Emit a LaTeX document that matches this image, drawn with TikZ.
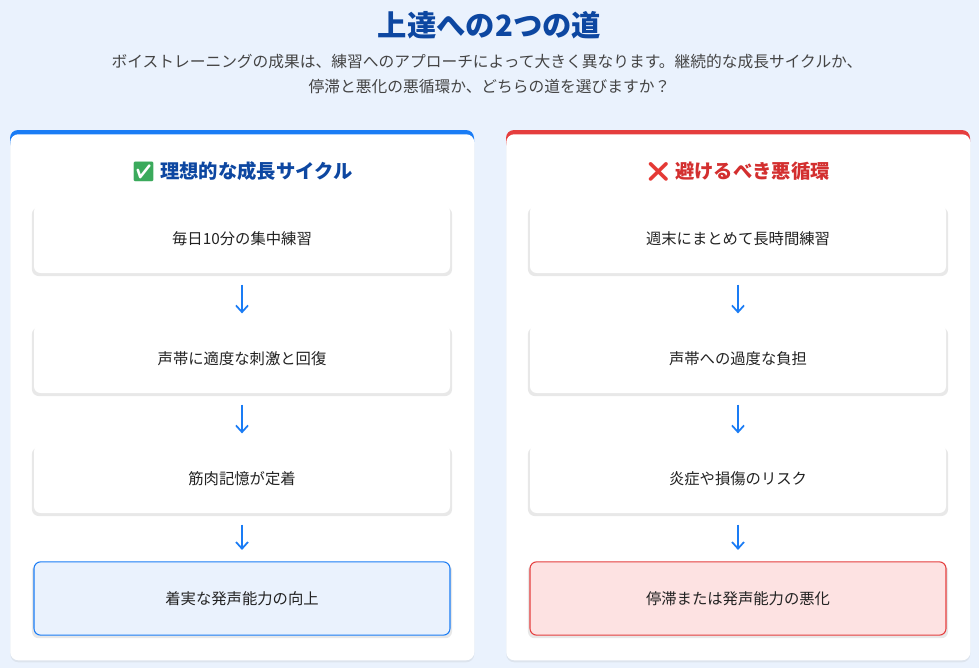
\documentclass[tikz,border=0pt]{standalone}
\usepackage{fontspec}
\setmainfont{Noto Sans CJK JP}
\newfontfamily\emo{Noto Emoji}
\usetikzlibrary{shadows,arrows.meta}
\definecolor{bg}{HTML}{EAF2FD}
\definecolor{ttl}{HTML}{0D47A1}
\definecolor{blu}{HTML}{1A7CF5}
\definecolor{redc}{HTML}{E53E3E}
\definecolor{redt}{HTML}{D32F2F}
\definecolor{pinkc}{HTML}{FDE2E2}
\definecolor{txt}{HTML}{222222}
\definecolor{sub}{HTML}{444444}
\definecolor{okg}{HTML}{3BAA5C}
\definecolor{xr}{HTML}{E53935}
\begin{document}
\begin{tikzpicture}[x=0.75pt,y=-0.75pt,
  card/.style={fill=white,rounded corners=6pt,drop shadow={opacity=0.12,shadow xshift=0pt,shadow yshift=-1.5pt}},
  stepbox/.style={fill=white,rounded corners=5pt,minimum width=312pt,minimum height=51pt,font=\fontsize{11.5}{14}\selectfont,text=txt,drop shadow={opacity=0.18,shadow xshift=0pt,shadow yshift=-2pt,shadow scale=1.01}},
  flow/.style={blu,line width=1.3pt,-{Straight Barb[length=5pt,width=9pt]}}]
\fill[bg] (0,0) rectangle (979,668);
\node[font=\bfseries\fontsize{22}{26}\selectfont,text=ttl] (title) at (489.5,25) {上達への2つの道};
\node[font=\fontsize{11.8}{14}\selectfont,text=sub] (s1) at (487,62) {ボイストレーニングの成果は、練習へのアプローチによって大きく異なります。継続的な成長サイクルか、};
\node[font=\fontsize{11.8}{14}\selectfont,text=sub] (s2) at (489.5,87) {停滞と悪化の悪循環か、どちらの道を選びますか？};
\fill[blu,rounded corners=6pt] (10,130) rectangle (474,150);
\fill[redc,rounded corners=6pt] (506,130) rectangle (970,150);
\node[card,minimum width=348pt,minimum height=394.5pt,anchor=north west] (lc) at (10,134) {};
\node[card,minimum width=348pt,minimum height=394.5pt,anchor=north west] (rc) at (506,134) {};
\node[font=\bfseries\fontsize{14.5}{17}\selectfont,text=ttl] (lh) at (242,172) {{\emo\textcolor{okg}{✅}} 理想的な成長サイクル};
\node[font=\bfseries\fontsize{14.5}{17}\selectfont,text=redt] (rh) at (738,172) {{\emo\textcolor{xr}{❌}} 避けるべき悪循環};
\node[stepbox] (l1) at (242,239) {毎日10分の集中練習};
\node[stepbox] (l2) at (242,359) {声帯に適度な刺激と回復};
\node[stepbox] (l3) at (242,479) {筋肉記憶が定着};
\node[stepbox,fill=bg,draw=blu,line width=0.8pt,minimum height=55pt] (l4) at (242,598.5) {着実な発声能力の向上};
\node[stepbox] (r1) at (738,239) {週末にまとめて長時間練習};
\node[stepbox] (r2) at (738,359) {声帯への過度な負担};
\node[stepbox] (r3) at (738,479) {炎症や損傷のリスク};
\node[stepbox,fill=pinkc,draw=redc,line width=0.8pt,minimum height=55pt] (r4) at (738,598.5) {停滞または発声能力の悪化};
\foreach \a/\b in {l1/l2,l2/l3,l3/l4,r1/r2,r2/r3,r3/r4}{
  \draw[flow] ([yshift=-8.5pt]\a.south) -- ([yshift=8.5pt]\b.north);
}
\end{tikzpicture}
\end{document}
